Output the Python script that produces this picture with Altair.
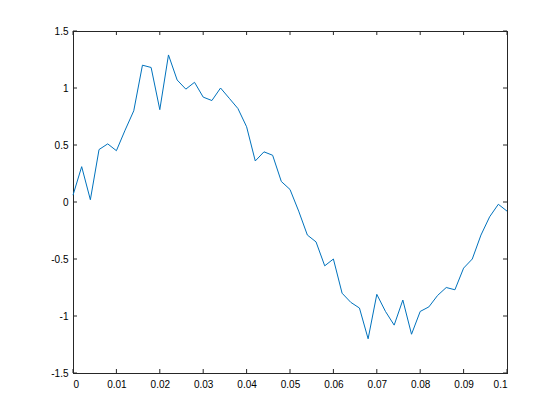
import altair as alt
import pandas as pd

t = [0.000, 0.002, 0.004, 0.006, 0.008, 0.010, 0.012, 0.014, 0.016, 0.018,
     0.020, 0.022, 0.024, 0.026, 0.028, 0.030, 0.032, 0.034, 0.036, 0.038,
     0.040, 0.042, 0.044, 0.046, 0.048, 0.050, 0.052, 0.054, 0.056, 0.058,
     0.060, 0.062, 0.064, 0.066, 0.068, 0.070, 0.072, 0.074, 0.076, 0.078,
     0.080, 0.082, 0.084, 0.086, 0.088, 0.090, 0.092, 0.094, 0.096, 0.098,
     0.100]
y = [0.06, 0.31, 0.02, 0.46, 0.51, 0.45, 0.63, 0.80, 1.20, 1.18,
     0.81, 1.29, 1.07, 0.99, 1.05, 0.92, 0.89, 1.00, 0.91, 0.82,
     0.66, 0.36, 0.44, 0.41, 0.18, 0.11, -0.08, -0.29, -0.35, -0.56,
     -0.50, -0.80, -0.88, -0.93, -1.20, -0.81, -0.96, -1.08, -0.86, -1.16,
     -0.96, -0.92, -0.82, -0.75, -0.77, -0.58, -0.50, -0.29, -0.13, -0.02,
     -0.08]

x_ticks = [0, 0.01, 0.02, 0.03, 0.04, 0.05, 0.06, 0.07, 0.08, 0.09, 0.1]
y_ticks = [-1.5, -1, -0.5, 0, 0.5, 1, 1.5]

W, H = 434, 342
TL = 4
AX = "#262626"
TXT = "#3a3a3a"
LINE = "#0072BD"

df = pd.DataFrame({"t": t, "y": y})
xt = pd.DataFrame({"v": x_ticks})
yt = pd.DataFrame({"v": y_ticks})
one = pd.DataFrame({"k": [0]})

xscale = alt.Scale(domain=[0, 0.1], nice=False, zero=False)
yscale = alt.Scale(domain=[-1.5, 1.5], nice=False, zero=False)

line = alt.Chart(df).mark_line(color=LINE, strokeWidth=1).encode(
    x=alt.X("t:Q", scale=xscale,
            axis=alt.Axis(values=x_ticks, title=None, grid=False, domain=False,
                          ticks=False, labelPadding=6,
                          labelExpr="'' + datum.value")),
    y=alt.Y("y:Q", scale=yscale,
            axis=alt.Axis(values=y_ticks, title=None, grid=False, domain=False,
                          ticks=False, labelPadding=5,
                          labelExpr="'' + datum.value")),
)

xb = alt.Chart(xt).mark_rule(color=AX, strokeWidth=1).encode(
    x=alt.X("v:Q", scale=xscale), y=alt.value(H), y2=alt.value(H - TL))
xtop = alt.Chart(xt).mark_rule(color=AX, strokeWidth=1).encode(
    x=alt.X("v:Q", scale=xscale), y=alt.value(0), y2=alt.value(TL))
yl = alt.Chart(yt).mark_rule(color=AX, strokeWidth=1).encode(
    y=alt.Y("v:Q", scale=yscale), x=alt.value(0), x2=alt.value(TL))
yr = alt.Chart(yt).mark_rule(color=AX, strokeWidth=1).encode(
    y=alt.Y("v:Q", scale=yscale), x=alt.value(W), x2=alt.value(W - TL))

def edge(x1, x2, y1, y2):
    return alt.Chart(one).mark_rule(color=AX, strokeWidth=1).encode(
        x=alt.value(x1), x2=alt.value(x2), y=alt.value(y1), y2=alt.value(y2))

box = [
    edge(0.5, 0.5, 0, H + 1),
    edge(W + 0.5, W + 0.5, 0, H + 1),
    edge(0, W + 1, 0.5, 0.5),
    edge(0, W + 1, H + 0.5, H + 0.5),
]

chart = alt.layer(xb, xtop, yl, yr, *box, line).properties(
    width=W, height=H,
    autosize=alt.AutoSizeParams(type="none"),
    padding={"left": 65, "top": 23, "right": 45, "bottom": 40},
).configure_view(
    stroke=None
).configure_axis(
    labelFont="DejaVu Sans", labelFontSize=10, labelColor=TXT
).configure(background="white")

chart.save("out.html", embed_options={"renderer": "svg", "actions": False})
